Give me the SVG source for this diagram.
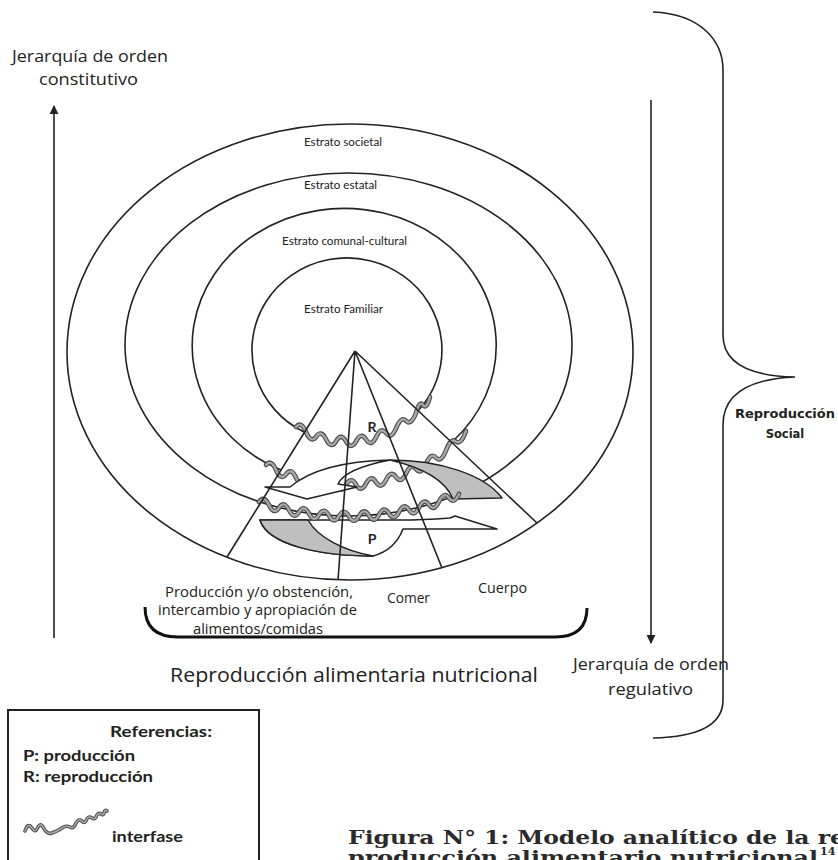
<svg xmlns="http://www.w3.org/2000/svg" xmlns:xlink="http://www.w3.org/1999/xlink" width="838" height="860" viewBox="0 0 838 860">
<style>
.ln{fill:none;stroke:#222;stroke-width:1.6}
.arr{fill:#fff;stroke:#222;stroke-width:1.5;stroke-linejoin:round}
.gr{fill:#bfbfbf;stroke:#222;stroke-width:1.5;stroke-linejoin:round}
.wo{fill:none;stroke:#4a4a4a;stroke-width:4.6;stroke-linecap:round;stroke-linejoin:round}
.wi{fill:none;stroke:#a8a8a8;stroke-width:2.4;stroke-linecap:round;stroke-linejoin:round}
.t{font-family:"Open Sans","Liberation Sans",sans-serif;fill:#222}
.c{font-family:Lato,"Open Sans",sans-serif;fill:#222}
.cb{font-family:Lato,"Open Sans",sans-serif;font-weight:bold;fill:#222}
.vb{font-family:"DejaVu Sans","Liberation Sans",sans-serif;font-weight:bold;fill:#222}
.cap{font-family:"DejaVu Serif","Liberation Serif",serif;font-weight:bold;fill:#2a2a2a}
</style>
<defs>
<marker id="ah" viewBox="0 0 10 10" refX="9" refY="5" markerWidth="9" markerHeight="11" markerUnits="userSpaceOnUse" orient="auto">
<path d="M0 0 L10 5 L0 10 Z" fill="#222"/>
</marker>
<path id="w1" d="M296 427 q5 -6.5 10 5 q5 11.5 10 5 q5 -7.9 10 2.2 q5 10.1 10 2.2 q5 -9 10 0 q5 9 10 0 q5 -10 10 -2 q5 8 10 -2 q5 -11.2 10 -4.4 q5 6.8 10 -4.4 q5 -12.9 10 -7.8 q5 5.1 10 -7.8 q3.5 -13 7 -8 q3.5 5 7 -8"/>
<path id="w2" d="M266 465 q5 -6.5 10 5 q5 11.15 10 4.3 q5 -7.3 10 3.4 q5 10.35 10 2.7 q5 -7.95 10 2.1 q5 9.7 10 1.4 q5 -8.55 10 0.9 q5 9.1 10 0.2 q5 -9.2 10 -0.4 q5 8.55 10 -0.9 q5 -9.8 10 -1.6 q5 7.9 10 -2.2 q5 -10.45 10 -2.9 q5 7.25 10 -3.5 q5 -11.2 10 -4.4 q5 6.4 10 -5.2 q5 -12.1 10 -6.2 q5 5.4 10 -7.2 q5 -13.45 10 -8.9 q5 3.65 10 -10.7"/>
<path id="w3" d="M259 502 q5 -7.45 10 3.1 q5 10.35 10 2.7 q5 -7.85 10 2.3 q5 9.95 10 1.9 q5 -8.2 10 1.6 q5 9.6 10 1.2 q5 -8.6 10 0.8 q5 9.25 10 0.5 q5 -8.9 10 0.2 q5 8.9 10 -0.2 q5 -9.25 10 -0.5 q5 8.55 10 -0.9 q5 -9.6 10 -1.2 q5 8.2 10 -1.6 q5 -10 10 -2 q5 7.85 10 -2.3 q5 -10.4 10 -2.8 q5 7.4 10 -3.2 q5 -10.8 10 -3.6 q5 6.95 10 -4.1"/>
<path id="wl" d="M25 831 q3 -9 7 -3 q3 5 5 1 q3 -7 6 -2 q4 8 9 6 q6 -2 10 -5 q4 -3 8 -1 q3 2 5 -2 q3 -7 7 -4 q2 3 4 0 q2 -6 6 -3 q2 2 4 -1 q2 -5 5 -3 q2 2 3 -1 q1 -4 3 -2"/>
</defs>

<g id="strata">
<ellipse class="ln" cx="350" cy="352" rx="283" ry="228"/>
<ellipse class="ln" cx="348.5" cy="344.5" rx="223.5" ry="171.5"/>
<path class="ln" d="M452 442 A152 137 0 1 0 281 470"/>
<path class="ln" d="M418 411 A95 92 0 1 0 304 432"/>
</g>

<g id="interface-comunal">
<use xlink:href="#w2" class="wo"/><use xlink:href="#w2" class="wi"/>
</g>

<g id="arrow-upper">
<path class="arr" d="M265 487 L290 487 C310 470 345 461 390 460 C364 465 343 473 338 484 L357 487 L307 499 Z"/>
<path class="gr" d="M390 460 C440 460 485 475 502 498 L453 499 C446 482 425 468 390 460 Z"/>
</g>

<g id="arrow-lower">
<path class="arr" d="M260 520 L400 520 C420 520 436 519 450 518 L455 516 L497 529 L403 529 C398 542 388 552 373 556 C320 556 268 545 260 520 Z"/>
<path class="gr" d="M260 520 L308 520 C318 538 345 551 373 556 C320 556 268 545 260 520 Z"/>
</g>

<g id="interface-familiar">
<use xlink:href="#w1" class="wo"/><use xlink:href="#w1" class="wi"/>
</g>
<g id="interface-estatal">
<use xlink:href="#w3" class="wo"/><use xlink:href="#w3" class="wi"/>
</g>

<g id="connectors">
<path class="ln" d="M355 351 L227 557 M355 351 L338 580 M355 351 L442 568 M355 351 L537 523"/>
<line class="ln" x1="54" y1="638" x2="54" y2="106" marker-end="url(#ah)"/>
<line class="ln" x1="651" y1="100" x2="651" y2="643" marker-end="url(#ah)"/>
<path d="M145 607 Q145 637 178 637 L555 637 Q587 637 587 608" fill="none" stroke="#111" stroke-width="3"/>
<path class="ln" d="M653 12 C700 14 723 40 723 70 L723 335 C723 362 748 376 795 377 C748 379 723 395 723 425 L723 700 C723 724 700 737 653 738"/>
</g>

<g id="labels">
<text class="c" x="304" y="146" font-size="10.5" textLength="78" lengthAdjust="spacingAndGlyphs">Estrato societal</text>
<text class="c" x="304" y="189" font-size="10.5" textLength="73" lengthAdjust="spacingAndGlyphs">Estrato estatal</text>
<text class="c" x="282" y="245" font-size="10.5" textLength="125" lengthAdjust="spacingAndGlyphs">Estrato comunal-cultural</text>
<text class="c" x="304" y="313" font-size="10.5" textLength="79" lengthAdjust="spacingAndGlyphs">Estrato Familiar</text>
<text class="cb" x="372" y="432" font-size="14" text-anchor="middle">R</text>
<text class="cb" x="372" y="544" font-size="14" text-anchor="middle">P</text>
<text class="t" x="12" y="62" font-size="16.5" textLength="156" lengthAdjust="spacingAndGlyphs">Jerarquía de orden</text>
<text class="t" x="39" y="85" font-size="16.5" textLength="99" lengthAdjust="spacingAndGlyphs">constitutivo</text>
<text class="t" x="573" y="670" font-size="16.5" textLength="156" lengthAdjust="spacingAndGlyphs">Jerarquía de orden</text>
<text class="t" x="608" y="695" font-size="16.5" textLength="85" lengthAdjust="spacingAndGlyphs">regulativo</text>
<text class="vb" x="735" y="418" font-size="11.5" textLength="100" lengthAdjust="spacingAndGlyphs">Reproducción</text>
<text class="vb" x="785" y="438" font-size="11.5" text-anchor="middle">Social</text>
<text class="t" x="165" y="597" font-size="14.5" textLength="188" lengthAdjust="spacingAndGlyphs">Producción y/o obstención,</text>
<text class="t" x="158" y="615" font-size="14.5" textLength="199" lengthAdjust="spacingAndGlyphs">intercambio y apropiación de</text>
<text class="t" x="193" y="634" font-size="14.5" textLength="130" lengthAdjust="spacingAndGlyphs">alimentos/comidas</text>
<text class="t" x="387" y="603" font-size="14.5" textLength="43" lengthAdjust="spacingAndGlyphs">Comer</text>
<text class="t" x="478" y="593" font-size="14.5" textLength="49" lengthAdjust="spacingAndGlyphs">Cuerpo</text>
<text class="t" x="170" y="682" font-size="20" textLength="368" lengthAdjust="spacingAndGlyphs">Reproducción alimentaria nutricional</text>
</g>

<g id="legend">
<rect x="8" y="710" width="251" height="170" fill="none" stroke="#222" stroke-width="2"/>
<text class="cb" x="110" y="737" font-size="16" textLength="102" lengthAdjust="spacingAndGlyphs">Referencias:</text>
<text class="cb" x="23" y="761" font-size="16" textLength="112" lengthAdjust="spacingAndGlyphs">P: producción</text>
<text class="cb" x="23" y="782" font-size="16" textLength="130" lengthAdjust="spacingAndGlyphs">R: reproducción</text>
<use xlink:href="#wl" class="wo" style="stroke-width:3.6"/><use xlink:href="#wl" class="wi" style="stroke-width:1.6"/>
<text class="cb" x="112" y="842" font-size="16" textLength="71" lengthAdjust="spacingAndGlyphs">interfase</text>
</g>

<g id="caption">
<text class="cap" x="348" y="844" font-size="19" textLength="497" lengthAdjust="spacingAndGlyphs">Figura N° 1: Modelo analítico de la re</text>
<text class="cap" x="348" y="864" font-size="19" textLength="470" lengthAdjust="spacingAndGlyphs">producción alimentario nutricional</text>
<text class="cap" x="820" y="855" font-size="11">14</text>
</g>
</svg>
